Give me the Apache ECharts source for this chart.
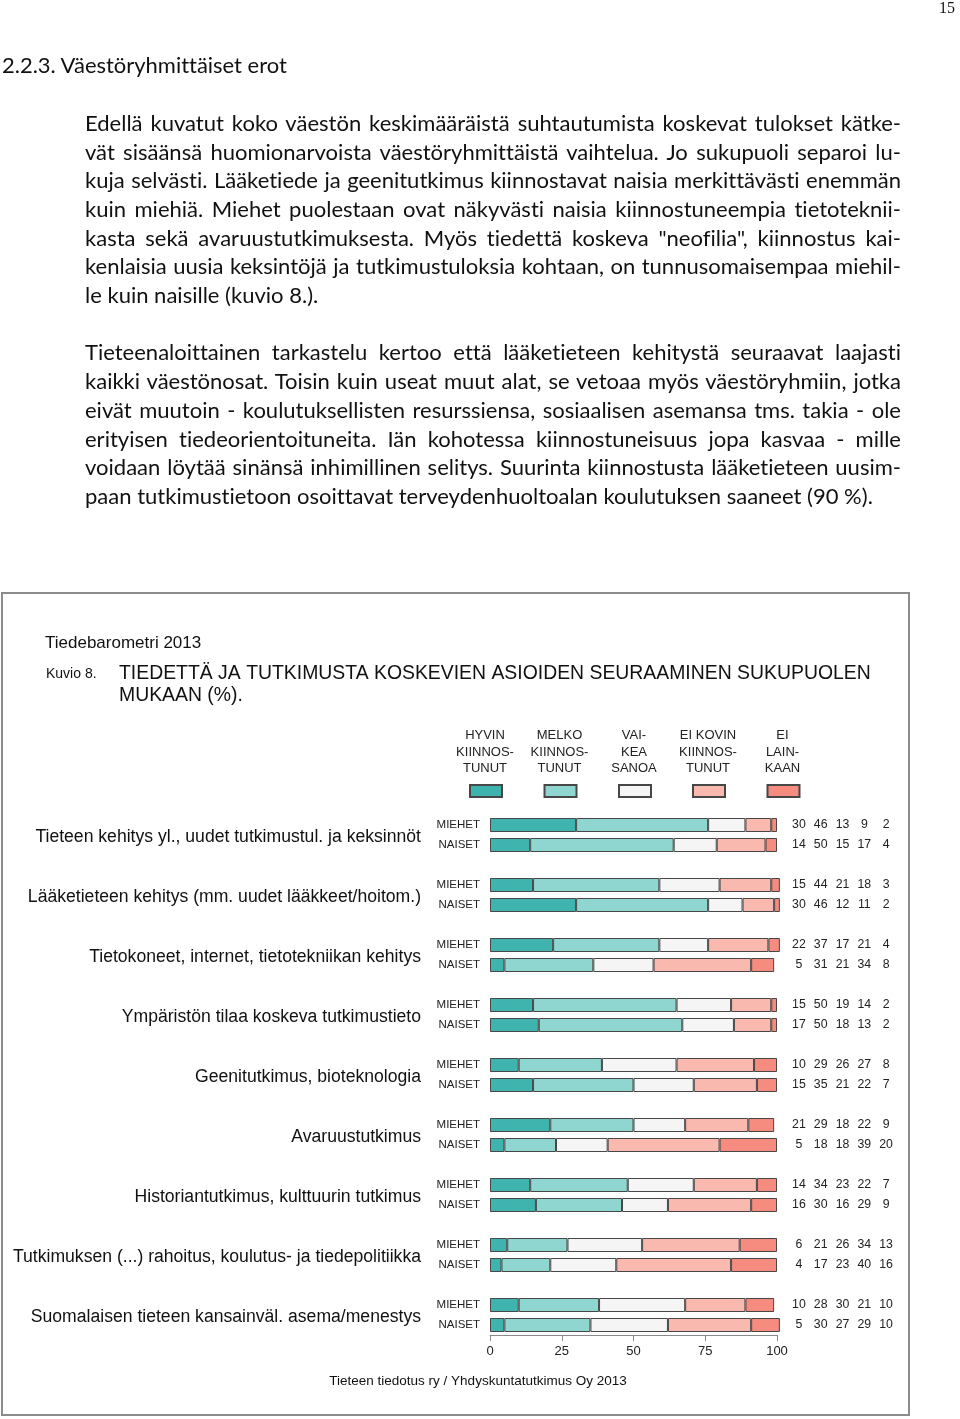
<!DOCTYPE html>
<html><head><meta charset="utf-8">
<script src="https://cdn.jsdelivr.net/npm/echarts@6/dist/echarts.min.js"></script>
<style>
html,body{margin:0;padding:0;background:#fff;}
#page{position:relative;width:960px;height:1419px;overflow:hidden;background:#fff;}
#chart{position:absolute;left:0;top:0;width:960px;height:1419px;}
.ln{position:absolute;left:85px;width:816px;height:30px;line-height:30px;color:#111;font-family:Lato,'Noto Sans',sans-serif;text-align:justify;text-align-last:justify;white-space:nowrap;font-variant-ligatures:none;font-feature-settings:"liga" 0,"dlig" 0;}
.ln.last{text-align:left;text-align-last:left;}
#head{position:absolute;left:2px;top:50px;height:30px;line-height:30px;color:#111;font-family:Lato,'Noto Sans',sans-serif;white-space:nowrap;font-variant-ligatures:none;font-feature-settings:"liga" 0;}
#pnum{position:absolute;left:939px;top:-1px;font-family:'Liberation Serif','DejaVu Serif',serif;font-size:16px;color:#111;}
</style></head>
<body><div id="page"><div id="chart"></div><div id="pnum">15</div><div id="head">2.2.3. Väestöryhmittäiset erot</div><div id="text"></div></div>
<script>
// ---------- data ----------
const categories = [
  'Tieteen kehitys yl., uudet tutkimustul. ja keksinnöt',
  'Lääketieteen kehitys (mm. uudet lääkkeet/hoitom.)',
  'Tietokoneet, internet, tietotekniikan kehitys',
  'Ympäristön tilaa koskeva tutkimustieto',
  'Geenitutkimus, bioteknologia',
  'Avaruustutkimus',
  'Historiantutkimus, kulttuurin tutkimus',
  'Tutkimuksen (...) rahoitus, koulutus- ja tiedepolitiikka',
  'Suomalaisen tieteen kansainväl. asema/menestys'
];
const genders = ['MIEHET', 'NAISET'];
const responseNames = ['Hyvin kiinnostunut', 'Melko kiinnostunut', 'Vaikea sanoa', 'Ei kovin kiinnostunut', 'Ei lainkaan'];
const responseHeaders = ['HYVIN\nKIINNOS-\nTUNUT', 'MELKO\nKIINNOS-\nTUNUT', 'VAI-\nKEA\nSANOA', 'EI KOVIN\nKIINNOS-\nTUNUT', 'EI\nLAIN-\nKAAN'];
// each array: [cat1 MIEHET, cat1 NAISET, cat2 MIEHET, cat2 NAISET, ...]
const hyvin      = [30,14, 15,30, 22, 5, 15,17, 10,15, 21, 5, 14,16,  6, 4, 10, 5];
const melko      = [46,50, 44,46, 37,31, 50,50, 29,35, 29,18, 34,30, 21,17, 28,30];
const vaikea     = [13,15, 21,12, 17,21, 19,18, 26,21, 18,18, 23,16, 26,23, 30,27];
const eiKovin    = [ 9,17, 18,11, 21,34, 14,13, 27,22, 22,39, 22,29, 34,40, 21,29];
const eiLainkaan = [ 2, 4,  3, 2,  4, 8,  2, 2,  8, 7,  9,20,  7, 9, 13,16, 10,10];
const xTicks = [0, 25, 50, 75, 100];
const chartTitle = 'TIEDETTÄ JA TUTKIMUSTA KOSKEVIEN ASIOIDEN SEURAAMINEN SUKUPUOLEN\nMUKAAN (%).';
const sourceText = 'Tieteen tiedotus ry / Yhdyskuntatutkimus Oy 2013';

const para1 = [
  'Edellä kuvatut koko väestön keskimääräistä suhtautumista koskevat tulokset kätke-',
  'vät sisäänsä huomionarvoista väestöryhmittäistä vaihtelua. Jo sukupuoli separoi lu-',
  'kuja selvästi. Lääketiede ja geenitutkimus kiinnostavat naisia merkittävästi enemmän',
  'kuin miehiä. Miehet puolestaan ovat näkyvästi naisia kiinnostuneempia tietoteknii-',
  'kasta sekä avaruustutkimuksesta. Myös tiedettä koskeva "neofilia", kiinnostus kai-',
  'kenlaisia uusia keksintöjä ja tutkimustuloksia kohtaan, on tunnusomaisempaa miehil-',
  'le kuin naisille (kuvio 8.).'
];
const para2 = [
  'Tieteenaloittainen tarkastelu kertoo että lääketieteen kehitystä seuraavat laajasti',
  'kaikki väestönosat. Toisin kuin useat muut alat, se vetoaa myös väestöryhmiin, jotka',
  'eivät muutoin - koulutuksellisten resurssiensa, sosiaalisen asemansa tms. takia - ole',
  'erityisen tiedeorientoituneita. Iän kohotessa kiinnostuneisuus jopa kasvaa - mille',
  'voidaan löytää sinänsä inhimillinen selitys. Suurinta kiinnostusta lääketieteen uusim-',
  'paan tutkimustietoon osoittavat terveydenhuoltoalan koulutuksen saaneet (90 %).'
];

// ---------- body text ----------
(function () {
  const cv = document.createElement('canvas').getContext('2d');
  function fit(text, target) {
    cv.font = '20px Lato';
    const w = cv.measureText(text).width;
    return 20 * target / w;
  }
  const fs = fit(para2[para2.length - 1], 788);
  document.getElementById('head').style.fontSize = fit('2.2.3. Väestöryhmittäiset erot', 285) + 'px';
  const host = document.getElementById('text');
  const lineY1 = [123, 152, 180, 209, 238, 266, 295];
  const lineY2 = [352, 381, 410, 439, 467, 496];
  function add(lines, ys) {
    lines.forEach((t, i) => {
      const d = document.createElement('div');
      d.className = 'ln' + (i === lines.length - 1 ? ' last' : '');
      d.style.top = (ys[i] - 15) + 'px';
      d.style.fontSize = fs + 'px';
      d.textContent = t;
      host.appendChild(d);
    });
  }
  add(para1, lineY1);
  add(para2, lineY2);
})();

// ---------- chart ----------
const seriesValues = [hyvin, melko, vaikea, eiKovin, eiLainkaan];
const colors = ['#3fb4ae', '#8fd6d0', '#f5f5f5', '#f9b9af', '#f68b7f'];

// slots: MIEHET, NAISET, gap for each category (no gap after last)
const slots = [];
categories.forEach((c, ci) => {
  genders.forEach((g, gi) => slots.push({ label: g, idx: ci * 2 + gi }));
  if (ci < categories.length - 1) slots.push({ label: '', idx: -1 });
});
const slotLabels = slots.map(s => s.label);

const series = seriesValues.map((arr, si) => ({
  name: responseNames[si],
  type: 'bar',
  stack: 'total',
  barWidth: 14,
  clip: false,
  silent: true,
  itemStyle: { color: colors[si], borderColor: '#474747', borderWidth: 1 },
  data: slots.map(s => (s.idx < 0 ? '-' : arr[s.idx]))
}));

series.push({
  type: 'custom',
  name: 'groups',
  clip: false,
  silent: true,
  data: categories.map((c, ci) => [0, ci * 3]),
  encode: { x: 0, y: 1 },
  renderItem: function (params, api) {
    const p = api.coord([0, api.value(1)]);
    const band = api.size([0, 1])[1];
    return {
      type: 'text',
      x: p[0] - 69,
      y: p[1] + band / 2 + 2,
      style: {
        text: categories[params.dataIndex],
        textAlign: 'right',
        textVerticalAlign: 'middle',
        font: '17.6px "Liberation Sans", Arial, sans-serif',
        fill: '#111'
      }
    };
  }
});

const legendCenters = [485, 559.5, 634, 708, 782.5];
const legends = responseNames.map((n, i) => ({
  data: [n],
  left: legendCenters[i] - 16,
  top: 784,
  itemWidth: 32,
  itemHeight: 12,
  icon: 'rect',
  selectedMode: false,
  formatter: function () { return ''; },
  textStyle: { fontSize: 1, color: 'rgba(0,0,0,0)' },
  padding: 0
}));

const graphics = [
  { type: 'rect', shape: { x: 2, y: 593, width: 907, height: 822 }, style: { fill: 'none', stroke: '#8c8c8c', lineWidth: 2 }, z: 0 },
  { type: 'text', x: 45, y: 643, style: { text: 'Tiedebarometri 2013', font: '17px "Liberation Sans", Arial, sans-serif', fill: '#111', textVerticalAlign: 'middle' } },
  { type: 'text', x: 46, y: 674, style: { text: 'Kuvio 8.', font: '14px "Liberation Sans", Arial, sans-serif', fill: '#111', textVerticalAlign: 'middle' } },
  { type: 'text', x: 119, y: 663, style: { text: chartTitle, font: '19.4px "Liberation Sans", Arial, sans-serif', lineHeight: 22, fill: '#111', textVerticalAlign: 'top' } },
  { type: 'text', x: 478, y: 1381.5, style: { text: sourceText, font: '13.5px "Liberation Sans", Arial, sans-serif', fill: '#111', textAlign: 'center', textVerticalAlign: 'middle' } }
];
responseHeaders.forEach((h, i) => {
  graphics.push({ type: 'text', x: legendCenters[i], y: 727.5, style: { text: h, font: '13px "Liberation Sans", Arial, sans-serif', lineHeight: 16.5, fill: '#222', textAlign: 'center', textVerticalAlign: 'top' } });
});

const chart = echarts.init(document.getElementById('chart'), null, { renderer: 'canvas' });
chart.setOption({
  animation: false,
  backgroundColor: 'transparent',
  textStyle: { fontFamily: '"Liberation Sans", Arial, sans-serif' },
  grid: { left: 490, top: 815, width: 287, height: 520, containLabel: false },
  legend: legends,
  xAxis: {
    type: 'value', min: xTicks[0], max: xTicks[xTicks.length - 1], interval: 25,
    splitLine: { show: false },
    axisLine: { show: true, lineStyle: { color: '#8a8a8a', width: 1 } },
    axisTick: { show: true, length: 6, lineStyle: { color: '#8a8a8a' } },
    axisLabel: { fontSize: 13, color: '#222', margin: 10, formatter: v => (xTicks.indexOf(v) >= 0 ? String(v) : '') }
  },
  yAxis: [
    {
      type: 'category', data: slotLabels, inverse: true,
      axisLine: { show: false }, axisTick: { show: false },
      axisLabel: { fontSize: 11.5, color: '#222', margin: 10, interval: 0 }
    },
    {
      type: 'category', data: slotLabels, inverse: true, position: 'right',
      axisLine: { show: false }, axisTick: { show: false },
      axisLabel: {
        interval: 0, margin: 11, color: '#222',
        formatter: function (v, i) {
          const s = slots[i];
          if (!s || s.idx < 0) return '';
          return seriesValues.map(a => '{c|' + a[s.idx] + '}').join('');
        },
        rich: { c: { width: 21.8, align: 'center', fontSize: 12.3, color: '#222' } }
      }
    }
  ],
  graphic: graphics,
  series: series
});
</script>
</body></html>
